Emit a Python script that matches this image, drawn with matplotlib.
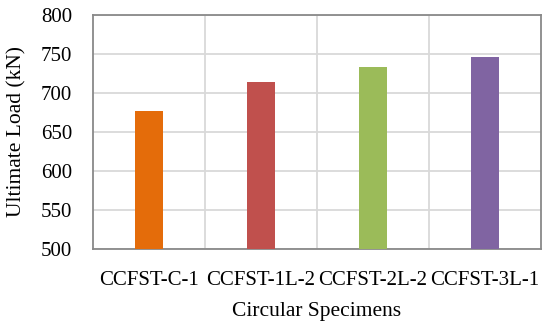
import matplotlib
matplotlib.use("Agg")
import matplotlib.pyplot as plt
from matplotlib.ticker import FixedLocator

categories = ["CCFST-C-1", "CCFST-1L-2", "CCFST-2L-2", "CCFST-3L-1"]
values = [677, 713, 733, 746]
colors = ["#E46C0A", "#C0504D", "#9BBB59", "#8064A2"]
yticks = [500, 550, 600, 650, 700, 750, 800]

plt.rcParams['font.family'] = ['Liberation Serif', 'DejaVu Serif']

fig = plt.figure(figsize=(5.5, 3.27), dpi=100)
ax = fig.add_axes([93/550, 1 - 248.7/327, (541-93)/550, (248.7-14.5)/327])

x = range(len(categories))
ax.bar(x, values, width=0.25, color=colors, zorder=3)

ax.set_xlim(-0.5, len(categories) - 0.5)
ax.set_ylim(500, 800)
ax.set_yticks(yticks)
ax.set_xticks(list(x))
ax.set_xticklabels(categories, fontsize=15)
ax.tick_params(axis='y', labelsize=15, length=0, pad=15)
ax.tick_params(axis='x', length=0, pad=16)
ax.xaxis.set_minor_locator(FixedLocator([i + 0.5 for i in range(len(categories) - 1)]))
ax.tick_params(axis='x', which='minor', length=0)
ax.grid(axis='y', which='major', color='#D9D9D9', linewidth=1.3, zorder=0)
ax.grid(axis='x', which='minor', color='#D9D9D9', linewidth=1.3, zorder=0)
ax.grid(axis='x', which='major', visible=False)
for s in ax.spines.values():
    s.set_color('#898989')
    s.set_linewidth(1.3)

ax.set_ylabel("Ultimate Load (kN)", fontsize=15.5, labelpad=10)
ax.set_xlabel("Circular Specimens", fontsize=15.5, labelpad=9)

fig.savefig("out.png", dpi=100)
